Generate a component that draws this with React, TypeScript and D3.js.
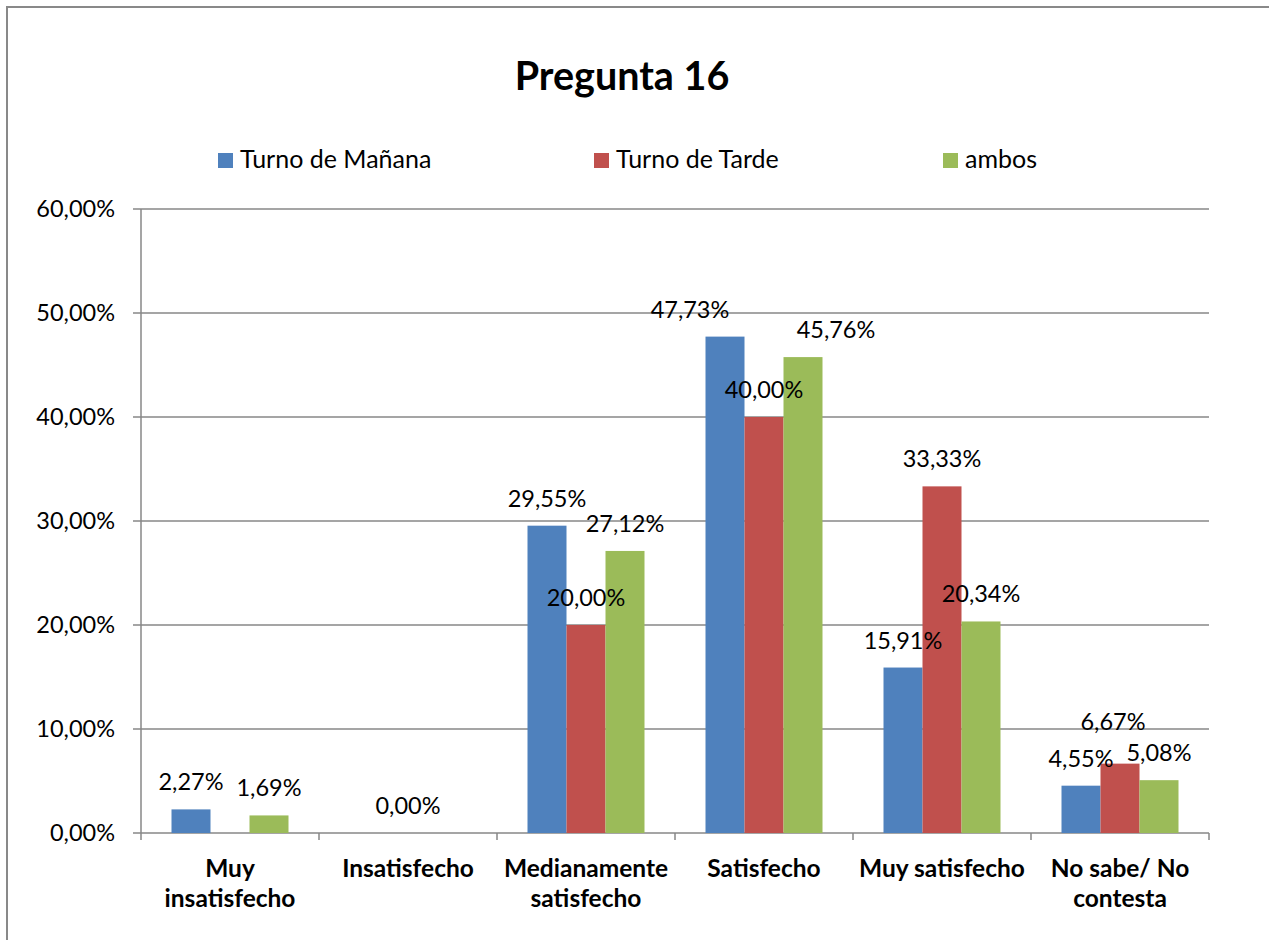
import React from 'react';
import * as d3 from 'd3';

const categories = [
  'Muy insatisfecho',
  'Insatisfecho',
  'Medianamente satisfecho',
  'Satisfecho',
  'Muy satisfecho',
  'No sabe/ No contesta',
];
const categoryLines = [
  ['Muy', 'insatisfecho'],
  ['Insatisfecho'],
  ['Medianamente', 'satisfecho'],
  ['Satisfecho'],
  ['Muy satisfecho'],
  ['No sabe/ No', 'contesta'],
];
const seriesNames = ['Turno de Mañana', 'Turno de Tarde', 'ambos'];
// null = empty cell (no bar, no label)
const turnoManana = [2.27, null, 29.55, 47.73, 15.91, 4.55];
const turnoTarde = [null, 0, 20.0, 40.0, 33.33, 6.67];
const ambos = [1.69, null, 27.12, 45.76, 20.34, 5.08];
const yTicks = [0, 10, 20, 30, 40, 50, 60];

const colors = ['#4F81BD', '#C0504D', '#9BBB59'];
const seriesValues = [turnoManana, turnoTarde, ambos];

const width = 1269;
const height = 940;
const plot = { left: 141, right: 1209, top: 209, bottom: 833 };
const font = 'Lato, "Open Sans", sans-serif';
const gridColor = '#878787';

// manual label nudges, as in the original chart
const labelNudge: Record<string, [number, number]> = {
  '0-3': [-35, 0],
  '2-3': [33, 0],
  '1-5': [-7, -15],
};

const fmt = (v: number) => d3.format('.2f')(v).replace('.', ',') + '%';

const App = () => {
  const x0 = d3.scaleBand().domain(categories).range([plot.left, plot.right]);
  const x1 = d3
    .scaleBand()
    .domain(seriesNames)
    .range([0, x0.bandwidth()])
    .paddingInner(0)
    .paddingOuter(0.782);
  const y = d3.scaleLinear().domain([0, 60]).range([plot.bottom, plot.top]);

  const bars: { s: number; c: number; v: number }[] = [];
  seriesValues.forEach((vals, s) =>
    vals.forEach((v, c) => {
      if (v !== null) bars.push({ s, c, v });
    })
  );

  const boundaries = categories.map((c) => x0(c) as number).concat([plot.right]);
  const legendX = [218, 594, 943];

  return (
    <svg
      width={width}
      height={height}
      style={{ position: 'absolute', left: 0, top: 0, background: '#fff' }}
      fontFamily={font}
    >
      <rect x={7} y={7} width={1400} height={1100} fill="#fff" stroke="#898989" strokeWidth={2} />

      <text x={622} y={90} textAnchor="middle" fontSize={39.5} fontWeight="bold" fill="#000">
        Pregunta 16
      </text>

      {seriesNames.map((name, i) => (
        <g key={name}>
          <rect x={legendX[i]} y={153} width={15} height={15} fill={colors[i]} />
          <text x={legendX[i] + 22} y={168} fontSize={25} fill="#000">
            {name}
          </text>
        </g>
      ))}

      {yTicks.map((t) => (
        <g key={t}>
          <line x1={plot.left - 8} x2={plot.right} y1={y(t)} y2={y(t)} stroke={gridColor} strokeWidth={1.5} />
          <text x={115} y={y(t)} dy="0.36em" textAnchor="end" fontSize={23.5} fill="#000">
            {fmt(t)}
          </text>
        </g>
      ))}

      <line x1={plot.left} x2={plot.left} y1={plot.top} y2={plot.bottom} stroke={gridColor} strokeWidth={1.5} />
      {boundaries.map((bx, i) => (
        <line key={i} x1={bx} x2={bx} y1={plot.bottom} y2={plot.bottom + 7} stroke={gridColor} strokeWidth={1.5} />
      ))}

      {bars.map((b) => (
        <rect
          key={`b-${b.s}-${b.c}`}
          x={(x0(categories[b.c]) as number) + (x1(seriesNames[b.s]) as number)}
          y={y(b.v)}
          width={x1.bandwidth()}
          height={plot.bottom - y(b.v)}
          fill={colors[b.s]}
        />
      ))}

      {bars.map((b) => {
        const [dx, dy] = labelNudge[`${b.s}-${b.c}`] || [0, 0];
        const cx = (x0(categories[b.c]) as number) + (x1(seriesNames[b.s]) as number) + x1.bandwidth() / 2;
        return (
          <text
            key={`l-${b.s}-${b.c}`}
            x={cx + dx}
            y={y(b.v) - 19 + dy}
            textAnchor="middle"
            fontSize={23.5}
            fill="#000"
          >
            {fmt(b.v)}
          </text>
        );
      })}

      {categoryLines.map((lines, i) => (
        <text
          key={categories[i]}
          x={(x0(categories[i]) as number) + x0.bandwidth() / 2}
          y={877}
          textAnchor="middle"
          fontSize={24.5}
          fontWeight="bold"
          fill="#000"
        >
          {lines.map((ln, j) => (
            <tspan key={j} x={(x0(categories[i]) as number) + x0.bandwidth() / 2} dy={j === 0 ? 0 : 30}>
              {ln}
            </tspan>
          ))}
        </text>
      ))}
    </svg>
  );
};

export default App;
